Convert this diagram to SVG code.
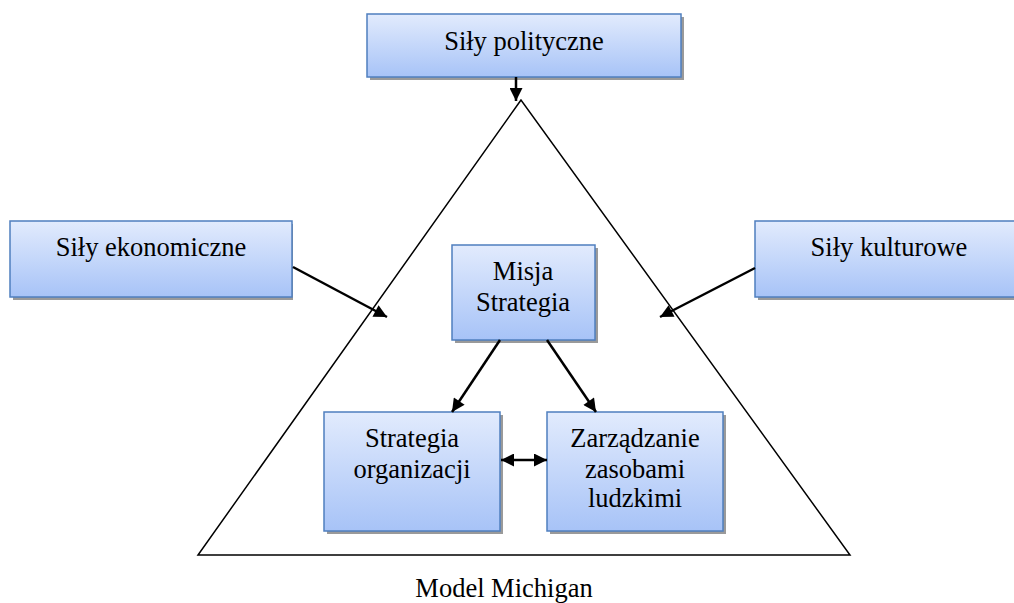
<svg xmlns="http://www.w3.org/2000/svg" width="1014" height="603" viewBox="0 0 1014 603">
  <style>
    .box { fill: url(#boxFill); stroke: #4f7fbf; stroke-width: 1.5; }
    .shadow { fill: #9a9a9a; }
    .edge { stroke: #000; stroke-width: 2.5; fill: none; }
    .tri { stroke: #000; stroke-width: 1.5; fill: none; }
  </style>
  <defs>
    <linearGradient id="boxFill" x1="0" y1="0" x2="0" y2="1">
      <stop offset="0" stop-color="#e2ebfd"/>
      <stop offset="1" stop-color="#a7c3f7"/>
    </linearGradient>
    <marker id="arrow" viewBox="0 0 10 10" refX="10" refY="5" markerWidth="14" markerHeight="13" markerUnits="userSpaceOnUse" orient="auto-start-reverse">
      <path d="M0,0 L10,5 L0,10 Z" fill="#000"/>
    </marker>
  </defs>

  <!-- outer triangle -->
  <polygon class="tri" points="521,100 198,555 850,555"/>

  <g font-family="'Liberation Serif', 'DejaVu Serif', serif" font-size="26.5" text-anchor="middle" fill="#000">
  <!-- nodes -->
  <g id="sily-polityczne">
    <rect class="shadow" x="370" y="17" width="314" height="63"/>
    <rect class="box" x="367" y="14" width="314" height="63"/>
    <text x="524" y="50">Siły polityczne</text>
  </g>
  <g id="sily-ekonomiczne">
    <rect class="shadow" x="13" y="224" width="280" height="76"/>
    <rect class="box" x="10" y="221" width="282" height="76"/>
    <text x="151" y="256">Siły ekonomiczne</text>
  </g>
  <g id="sily-kulturowe">
    <rect class="shadow" x="758" y="224" width="260" height="76"/>
    <rect class="box" x="755" y="221" width="262" height="76"/>
    <text x="889" y="256">Siły kulturowe</text>
  </g>
  <g id="misja-strategia">
    <rect class="shadow" x="455" y="248" width="143" height="95"/>
    <rect class="box" x="452" y="245" width="143" height="95"/>
    <text x="523" y="280">Misja</text>
    <text x="523" y="311">Strategia</text>
  </g>
  <g id="strategia-organizacji">
    <rect class="shadow" x="327" y="415" width="176" height="119"/>
    <rect class="box" x="324" y="412" width="176" height="119"/>
    <text x="412" y="447">Strategia</text>
    <text x="412" y="478">organizacji</text>
  </g>
  <g id="zarzadzanie-zasobami">
    <rect class="shadow" x="550" y="415" width="176" height="119"/>
    <rect class="box" x="547" y="412" width="176" height="119"/>
    <text x="635" y="447">Zarządzanie</text>
    <text x="635" y="478">zasobami</text>
    <text x="635" y="507">ludzkimi</text>
  </g>

  <text x="504" y="597">Model Michigan</text>
  </g>

  <!-- connectors -->
  <g id="connectors">
    <line class="edge" x1="516" y1="77" x2="516" y2="101" marker-end="url(#arrow)"/>
    <line class="edge" x1="293" y1="267" x2="387" y2="317" marker-end="url(#arrow)"/>
    <line class="edge" x1="755" y1="268" x2="660" y2="317" marker-end="url(#arrow)"/>
    <line class="edge" x1="500" y1="340" x2="452" y2="412" marker-end="url(#arrow)"/>
    <line class="edge" x1="547" y1="340" x2="596" y2="412" marker-end="url(#arrow)"/>
    <line class="edge" x1="501" y1="460" x2="547" y2="460" marker-start="url(#arrow)" marker-end="url(#arrow)"/>
  </g>
</svg>
